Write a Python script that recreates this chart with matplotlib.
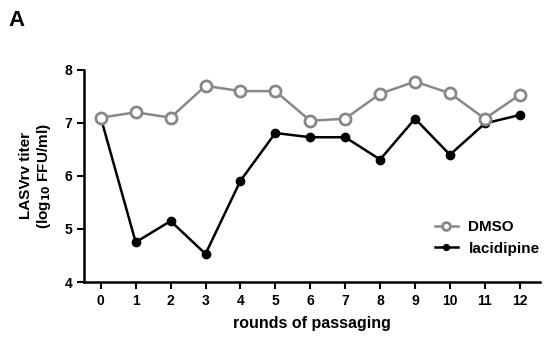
import matplotlib.pyplot as plt

rounds = list(range(13))
dmso = [7.1, 7.2, 7.1, 7.7, 7.6, 7.6, 7.04, 7.08, 7.55, 7.78, 7.56, 7.08, 7.53]
lacidipine = [7.1, 4.75, 5.15, 4.53, 5.91, 6.81, 6.73, 6.73, 6.31, 7.08, 6.4, 6.99, 7.15]

plt.rcParams['font.family'] = ['Liberation Sans', 'DejaVu Sans']
plt.rcParams['font.weight'] = 'bold'

fig = plt.figure(figsize=(5.47, 3.41), dpi=100)
ax = fig.add_axes([0.1536, 0.173, 0.833, 0.622])

ax.plot(rounds, dmso, color='#888888', lw=1.8, marker='o', ms=8,
        mfc='white', mec='#888888', mew=2, label='DMSO', clip_on=False, zorder=4)
ax.plot(rounds, lacidipine, color='black', lw=1.8, marker='o', ms=6,
        label='lacidipine', clip_on=False, zorder=3)

ax.set_xlim(-0.48, 12.57)
ax.set_ylim(4, 8)
ax.set_xticks(rounds)
ax.set_yticks([4, 5, 6, 7, 8])
ax.spines['top'].set_visible(False)
ax.spines['right'].set_visible(False)
ax.spines['left'].set_linewidth(1.8)
ax.spines['bottom'].set_linewidth(1.8)
ax.tick_params(direction='out', width=1.5, length=5, labelsize=10)

ax.set_xlabel('rounds of passaging', fontsize=11.5, fontweight='bold', labelpad=6)
ax.set_ylabel('LASVrv titer\n(log$_{\\mathbf{10}}$ FFU/ml)', fontsize=11, fontweight='bold',
              labelpad=8)

handles, labels = ax.get_legend_handles_labels()
ax.legend(handles[::-1][::-1], labels, loc='lower right', bbox_to_anchor=(1.03, 0.06),
          frameon=False, fontsize=11, handlelength=1.5, handletextpad=0.7,
          labelspacing=0.5, markerscale=0.7)

fig.text(0.015, 0.925, 'A', fontsize=16, fontweight='bold')

fig.savefig('out.png', dpi=100)
